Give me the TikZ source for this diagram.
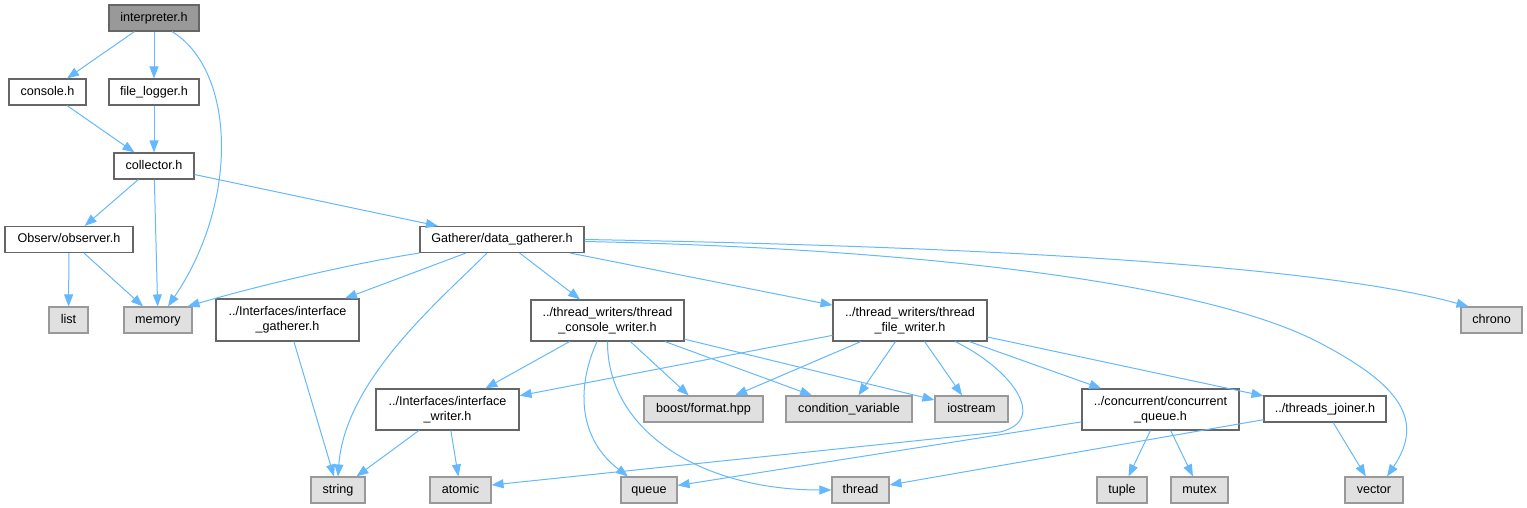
\documentclass[tikz,border=0pt]{standalone}
\usepackage{fontspec}
\setmainfont{Liberation Sans}
\usetikzlibrary{arrows.meta,calc}
\definecolor{edgeblue}{HTML}{63B8FF}
\definecolor{boxborder}{HTML}{666666}
\definecolor{sysborder}{HTML}{999999}
\definecolor{sysfill}{HTML}{E0E0E0}
\definecolor{curfill}{HTML}{999999}
\begin{document}
\begin{tikzpicture}[x=1pt,y=-1pt,
  every node/.style={font=\fontsize{12.6}{15}\selectfont, inner sep=0pt, align=center},
  sz/.style 2 args={minimum width=#1pt, minimum height=#2pt},
  one/.style={text height=9pt, text depth=2.6pt},
  hdr/.style={draw=boxborder, fill=white, line width=1.1pt},
  sys/.style={draw=sysborder, fill=sysfill, line width=1.1pt},
  cur/.style={draw=boxborder, fill=curfill, line width=1.1pt},
  edge/.style={draw=edgeblue, line width=1pt, -{Triangle[length=12pt,width=9pt]}}]
\useasboundingbox (0,0) rectangle (1527,508);
% nodes
\node[cur,one,sz={90}{26}] (interp) at (154,18) {interpreter.h};
\node[hdr,one,sz={77}{26}] (console) at (47.5,92) {console.h};
\node[hdr,one,sz={90}{26}] (flog) at (154,92) {file\_logger.h};
\node[hdr,one,sz={80}{26}] (coll) at (154,166) {collector.h};
\node[hdr,one,sz={128}{26}] (obs) at (69,239.5) {Observ/observer.h};
\node[hdr,one,sz={164}{26}] (gat) at (502,239.5) {Gatherer/data\_gatherer.h};
\node[sys,one,sz={39}{26}] (list) at (68.5,320) {list};
\node[sys,one,sz={68}{26}] (mem) at (158,320) {memory};
\node[hdr,sz={143}{42}] (ig) at (287.5,320) {../Interfaces/interface\\\_gatherer.h};
\node[hdr,sz={153}{41}] (cw) at (607.5,320.5) {../thread\_writers/thread\\\_console\_writer.h};
\node[hdr,sz={154}{41}] (fw) at (910,320.5) {../thread\_writers/thread\\\_file\_writer.h};
\node[sys,one,sz={61}{26}] (chrono) at (1491.5,320) {chrono};
\node[hdr,sz={143}{41}] (iw) at (447.5,409.5) {../Interfaces/interface\\\_writer.h};
\node[sys,one,sz={119}{26}] (boost) at (703.5,409) {boost/format.hpp};
\node[sys,one,sz={126}{26}] (cond) at (849,409) {condition\_variable};
\node[sys,one,sz={73}{26}] (ios) at (971.5,409) {iostream};
\node[hdr,sz={157}{41}] (cq) at (1160.5,409.5) {../concurrent/concurrent\\\_queue.h};
\node[hdr,one,sz={122}{26}] (tj) at (1325,409) {../threads\_joiner.h};
\node[sys,one,sz={54}{26}] (str) at (338,490) {string};
\node[sys,one,sz={61}{26}] (atomic) at (460.5,490) {atomic};
\node[sys,one,sz={56}{26}] (queue) at (649,490) {queue};
\node[sys,one,sz={57}{26}] (thread) at (860.5,490) {thread};
\node[sys,one,sz={50}{26}] (tuple) at (1122,490) {tuple};
\node[sys,one,sz={57}{26}] (mutex) at (1199.5,490) {mutex};
\node[sys,one,sz={58}{26}] (vector) at (1374,490) {vector};
% edges
\draw[edge] (interp) -- (console);
\draw[edge] (interp) -- (flog);
\draw[edge] ([xshift=18pt]interp.south) .. controls (235,70) and (240,200) .. ([xshift=10pt]mem.north);
\draw[edge] (console) -- (coll);
\draw[edge] (flog) -- (coll);
\draw[edge] (coll) -- (obs);
\draw[edge] (coll) -- (mem);
\draw[edge] (coll) -- (gat);
\draw[edge] (obs) -- (list);
\draw[edge] (obs) -- (mem);
\draw[edge] (gat.south west) .. controls (360,262) and (260,285) .. ([xshift=-5pt]mem.north east);
\draw[edge] (gat) -- (ig);
\draw[edge] ([xshift=-15pt]gat.south) .. controls (440,300) and (345,380) .. (str.north);
\draw[edge] (gat) -- (cw);
\draw[edge] (gat) -- (fw);
\draw[edge] (gat.east) .. controls (900,245) and (1300,260) .. ([xshift=-23pt]chrono.north);
\draw[edge] ([yshift=-2pt]gat.east) .. controls (900,248) and (1200,280) .. (1320,343)
  .. controls (1400,385) and (1425,420) .. ([xshift=13pt]vector.north);
\draw[edge] (ig) -- (str);
\draw[edge] (cw) -- (iw);
\draw[edge] (cw) -- (boost);
\draw[edge] (cw) -- (cond);
\draw[edge] (cw) -- (ios);
\draw[edge] ([xshift=-10.5pt]cw.south) .. controls (575,390) and (580,440) .. ([xshift=-21pt]queue.north);
\draw[edge] (cw.south) .. controls (607,430) and (700,490) .. (thread.west);
\draw[edge] (fw) -- (iw);
\draw[edge] (fw) -- (boost);
\draw[edge] (fw) -- (cond);
\draw[edge] (fw) -- (ios);
\draw[edge] ([xshift=45pt]fw.south) .. controls (1010,368) and (1050,420) .. (1000,432) -- ([yshift=5pt]atomic.east);
\draw[edge] (fw) -- (cq);
\draw[edge] (fw) -- (tj);
\draw[edge] (iw) -- (str);
\draw[edge] (iw) -- (atomic);
\draw[edge] (cq) -- (queue);
\draw[edge] (cq) -- (tuple);
\draw[edge] (cq) -- (mutex);
\draw[edge] (tj) -- (thread);
\draw[edge] (tj) -- (vector);
\end{tikzpicture}
\end{document}
